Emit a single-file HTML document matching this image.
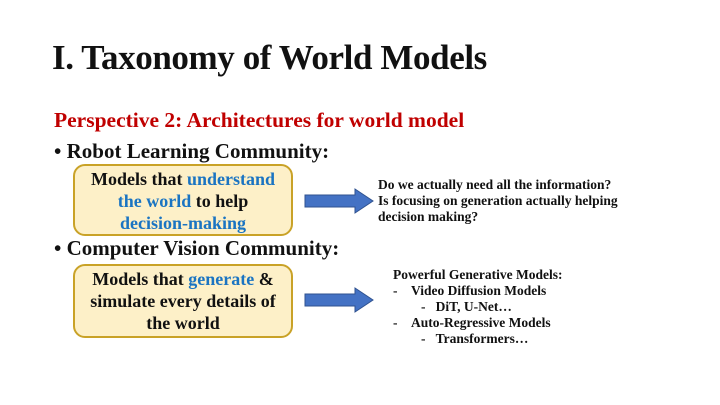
<!DOCTYPE html>
<html><head><style>
body{margin:0;width:720px;height:405px;background:#fff;position:relative;overflow:hidden;font-family:"Liberation Serif",serif;font-weight:bold;color:#111}
.a{position:absolute;white-space:nowrap}
.box{position:absolute;background:#fdf0c8;border:2px solid #c9a227;border-radius:12px;width:220px;box-sizing:border-box;text-align:center;font-size:18px;line-height:22px;white-space:nowrap;padding-top:2px}
.b{color:#1a74c2}
.sm{font-size:13.5px;line-height:16px}
</style></head><body>
<div class="a" style="left:52px;top:38px;font-size:35px;letter-spacing:-0.4px">I. Taxonomy of World Models</div>
<div class="a" style="left:54px;top:108px;font-size:21.5px;color:#c00000">Perspective 2: Architectures for world model</div>
<div class="a" style="left:54px;top:139px;font-size:21px">• Robot Learning Community:</div>
<div class="box" style="left:73px;top:164px;height:72px">Models that <span class="b">understand</span><br><span class="b">the world</span> to help<br><span class="b">decision-making</span></div>
<div class="a" style="left:54px;top:236px;font-size:21px">• Computer Vision Community:</div>
<div class="box" style="left:73px;top:264px;height:74px">Models that <span class="b">generate</span> &amp;<br>simulate every details of<br>the world</div>
<svg style="position:absolute;left:303px;top:187px" width="72" height="28"><polygon points="2,8 52,8 52,2 70,14 52,26 52,20 2,20" fill="#4472c4" stroke="#2f528f" stroke-width="1"/></svg>
<svg style="position:absolute;left:303px;top:286px" width="72" height="28"><polygon points="2,8 52,8 52,2 70,14 52,26 52,20 2,20" fill="#4472c4" stroke="#2f528f" stroke-width="1"/></svg>
<div class="a sm" style="left:378px;top:177px">Do we actually need all the information?<br>Is focusing on generation actually helping<br>decision making?</div>
<div class="a sm" style="left:393px;top:267px">Powerful Generative Models:</div>
<div class="a sm" style="left:393px;top:283px">-&nbsp;&nbsp;&nbsp;&nbsp;Video Diffusion Models</div>
<div class="a sm" style="left:421px;top:299px">-&nbsp;&nbsp;&nbsp;DiT, U-Net…</div>
<div class="a sm" style="left:393px;top:315px">-&nbsp;&nbsp;&nbsp;&nbsp;Auto-Regressive Models</div>
<div class="a sm" style="left:421px;top:331px">-&nbsp;&nbsp;&nbsp;Transformers…</div>
</body></html>
